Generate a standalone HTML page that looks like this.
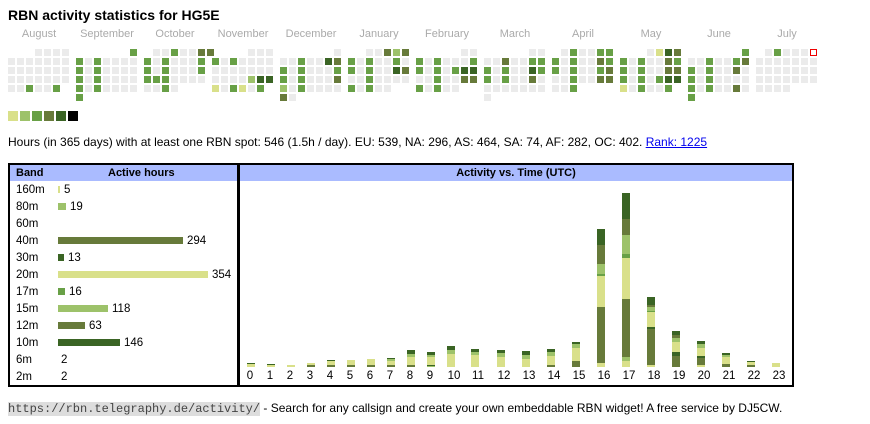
<!DOCTYPE html>
<html><head><meta charset="utf-8"><style>
*{margin:0;padding:0;box-sizing:border-box}
body{width:870px;height:424px;background:#fff;font-family:"Liberation Sans",Arial,sans-serif;color:#000;position:relative;overflow:hidden}
.a{position:absolute;white-space:nowrap}
.c{position:absolute;width:7px;height:7px}
.ml{position:absolute;top:28px;font-size:11px;color:#aaa;transform:translateX(-50%);white-space:nowrap}
.box{position:absolute;border:2px solid #000}
.hd{position:absolute;background:#aabbff;font-size:11px;font-weight:bold;height:16px;line-height:16px}
.bl{position:absolute;left:16px;font-size:11.5px}
.bb{position:absolute;left:58px;height:7px}
.bn{position:absolute;font-size:11.5px}
.xl{position:absolute;top:370px;font-size:11.5px}
</style></head><body>
<div class="a" style="left:8px;top:7px;font-size:14px;font-weight:bold">RBN activity statistics for HG5E</div>
<div id="cal"></div>
<div class="a" style="left:8px;top:135px;font-size:12px">Hours (in 365 days) with at least one RBN spot: 546 (1.5h / day). EU: 539, NA: 296, AS: 464, SA: 74, AF: 282, OC: 402. <span style="color:#00e;text-decoration:underline">Rank: 1225</span></div>

<div class="box" style="left:8px;top:163px;width:231px;height:224px"></div>
<div class="hd" style="left:10px;top:165px;width:227px"><span style="position:absolute;left:6px">Band</span><span style="position:absolute;left:98px">Active hours</span></div>
<div class="box" style="left:238px;top:163px;width:556px;height:224px"></div>
<div class="hd" style="left:240px;top:165px;width:552px;text-align:center">Activity vs. Time (UTC)</div>
<div id="bands"></div>
<div id="bars"></div>

<div class="a" style="left:8px;top:401px;font-size:12px"><span style="font-family:'Liberation Mono',monospace;background:#ddd;color:#444;font-size:12px">https://rbn.telegraphy.de/activity/</span> - Search for any callsign and create your own embeddable RBN widget! A free service by DJ5CW.</div>
<script>
var C={'.':'#ebebeb','1':'#d9e08a','2':'#9dc26a','3':'#68a046','4':'#677a3a','5':'#3a6424','6':'#000'};
var months=["August","September","October","November","December","January","February","March","April","May","June","July"];
var data=[
["   ....",".......",".......",".......","..3..3"],
["      3","3.3....","3.3....","3.3....","3.3....","3"],
[" ..3..44","3.3...3","3.3...3","333....","..3."],
["    ...","3.3....",".......","....255","1.31.3"],
["      .","..3..54","3.3...3","3.3...4","2.3....","4."],
["  ..424","3.3..3.","3.3..54","..3....","3.3.."],
["     ..","3.3...3","3.3.355","..3..44","3.3.."],
["     ..","..4..33","3.3..53","3.3..4.",".......","."],
[" .3..33","3.3..43","3.3..34","..3..44","..3"],
["   .154","3.3..43","3.3..44","3.3.355","1.3..3"],
["      3","..3..34","3.3..4.","3.3....","3.3..4.","3"],
[" .3...R",".......",".......",".......","...."]];
var h="";
for(var m=0;m<12;m++){var mx=8+m*68;
h+='<div class="ml" style="left:'+(mx+31)+'px">'+months[m]+'</div>';
for(var r=0;r<data[m].length;r++){var s=data[m][r];for(var c=0;c<s.length;c++){var ch=s[c];if(ch==' ')continue;
var x=mx+c*9,y=49+r*9;
if(ch=='R')h+='<div class="c" style="left:'+x+'px;top:'+y+'px;border:1px solid #e00;background:#fff"></div>';
else h+='<div class="c" style="left:'+x+'px;top:'+y+'px;background:'+C[ch]+'"></div>';}}}
for(var i=0;i<6;i++)h+='<div class="c" style="left:'+(8+i*12)+'px;top:111px;width:10px;height:10px;background:'+C[''+(i+1)]+'"></div>';
document.getElementById('cal').innerHTML=h;

var bands=[["160m",5,'1'],["80m",19,'2'],["60m",0,''],["40m",294,'4'],["30m",13,'5'],["20m",354,'1'],["17m",16,'3'],["15m",118,'2'],["12m",63,'4'],["10m",146,'5'],["6m",2,''],["2m",2,'']];
h="";
for(var i=0;i<bands.length;i++){var b=bands[i],cy=189+i*17;
h+='<div class="bl" style="top:'+(cy-5)+'px">'+b[0]+'</div>';
if(b[2]){var w=Math.max(2,Math.round(b[1]*150/354));
h+='<div class="bb" style="top:'+(cy-3)+'px;width:'+w+'px;background:'+C[b[2]]+'"></div>';
h+='<div class="bn" style="top:'+(cy-5)+'px;left:'+(58+w+4)+'px">'+b[1]+'</div>';}
else if(b[1])h+='<div class="bn" style="top:'+(cy-5)+'px;left:61px">'+b[1]+'</div>';}
document.getElementById('bands').innerHTML=h;

var lefts=[247,267,287,307,327,347,367,387,407,427,447,471,497,522,547,572,597,622,647,672,697,722,747,772];
var segs=[
[[362.7,'5'],[363.7,'1']],
[[363.7,'5'],[364.7,'1']],
[[364.7,'1']],
[[362.7,'1'],[364.7,'4']],
[[360,'5'],[361,'1'],[364.7,'4']],
[[359.7,'1'],[364.7,'4']],
[[358.7,'1'],[364.7,'4']],
[[357.7,'5'],[358.7,'2'],[360.7,'1'],[364.7,'4']],
[[350,'5'],[354,'2'],[357,'1'],[364.7,'4']],
[[352,'5'],[355,'2'],[357,'1'],[364.7,'5'],[365.7,'2']],
[[346,'5'],[350,'2'],[354,'1']],
[[349,'5'],[352,'2'],[355,'1']],
[[350,'5'],[353,'2'],[357,'1']],
[[351,'5'],[355,'2'],[359,'1']],
[[349,'5'],[352,'2'],[356,'1'],[364.7,'4']],
[[342,'5'],[344,'2'],[348,'1'],[361,'4']],
[[229,'5'],[245,'4'],[264,'2'],[274,'3'],[276,'1'],[307,'4'],[362.7,'1']],
[[193,'5'],[219,'4'],[235,'2'],[254,'3'],[258,'1'],[299,'4'],[356.7,'2'],[361,'1']],
[[297,'5'],[305,'4'],[307,'2'],[311,'3'],[312,'1'],[327,'5'],[329,'4'],[364.7,'1']],
[[331,'5'],[335,'4'],[338,'2'],[342,'1'],[352,'5'],[356,'4']],
[[341,'5'],[344,'2'],[348,'1'],[356,'5'],[358,'4'],[364.7,'1']],
[[353,'5'],[355,'2'],[356.7,'1'],[364,'4']],
[[361,'5'],[362,'1'],[364.7,'4']],
[[363,'1']]];
h="";
for(var i=0;i<24;i++){var s=segs[i];
for(var j=0;j<s.length;j++){var t=s[j][0],bt=(j+1<s.length)?s[j+1][0]:366.7;
h+='<div style="position:absolute;left:'+lefts[i]+'px;top:'+t+'px;width:8px;height:'+(bt-t)+'px;background:'+C[s[j][1]]+'"></div>';}
var lx=lefts[i]+(i<10?3:7);
h+='<div class="xl" style="left:'+lx+'px;transform:translateX(-50%)">'+i+'</div>';}
document.getElementById('bars').innerHTML=h;
</script>
</body></html>
